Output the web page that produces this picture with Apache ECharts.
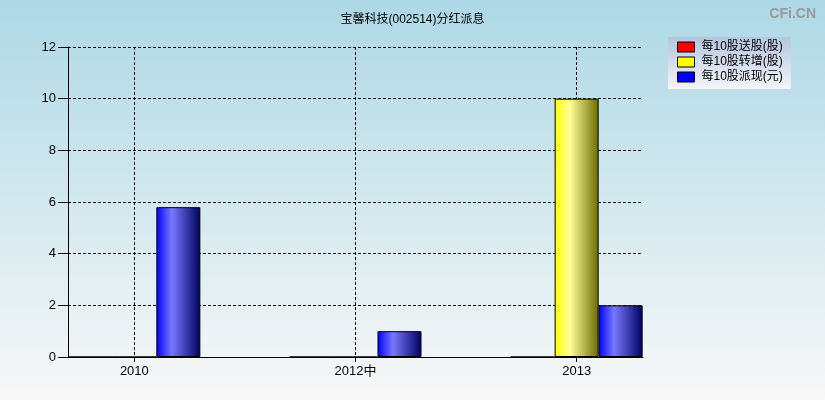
<!DOCTYPE html>
<html>
<head>
<meta charset="utf-8">
<script src="https://cdn.jsdelivr.net/npm/echarts@6/dist/echarts.min.js"></script>
<style>html,body{margin:0;padding:0;}#c{width:825px;height:400px;}</style>
</head>
<body>
<div id="c"></div>
<script>
var categories = ['2010', '2012中', '2013'];
var songGu = [0, 0, 0];       // 每10股送股(股)
var zhuanZeng = [0, 0, 10];   // 每10股转增(股)
var paiXian = [5.8, 1.0, 2.0]; // 每10股派现(元)
var yTicks = [0, 2, 4, 6, 8, 10, 12];

var FONT = '"Liberation Sans", Arial, "Noto Sans CJK SC", sans-serif';

function grad(c0, c1, c2) {
  return new echarts.graphic.LinearGradient(0, 0, 1, 0, [
    {offset: 0, color: c0}, {offset: 0.35, color: c1}, {offset: 1, color: c2}
  ]);
}
function pts(arr) { return arr.map(function (v, i) { return [i, v]; }); }
var idx = categories.map(function (c, i) { return i; });

var chart = echarts.init(document.getElementById('c'), null, {renderer: 'canvas'});
chart.setOption({
  animation: false,
  backgroundColor: new echarts.graphic.LinearGradient(0, 0, 0, 1, [
    {offset: 0, color: '#add8e6'}, {offset: 1, color: '#f8f8f8'}
  ]),
  title: [{
    text: '宝馨科技(002514)分红派息', left: 'center', top: 9,
    textStyle: {fontSize: 12, fontWeight: 'normal', color: '#000', fontFamily: FONT}
  }, {
    text: 'CFi.CN', right: 4, top: 2,
    textStyle: {fontSize: 14, fontWeight: 'bold', color: '#999', fontFamily: FONT}
  }],
  legend: {
    orient: 'vertical', left: 668, top: 37, width: 130,
    padding: [4, 8, 6, 9], itemGap: 3, itemWidth: 17, itemHeight: 10,
    backgroundColor: new echarts.graphic.LinearGradient(0, 0, 0, 1, [
      {offset: 0, color: '#b4c6de'}, {offset: 1, color: '#f4f4f8'}
    ]),
    textStyle: {fontSize: 12, color: '#000', fontFamily: FONT, padding: [0, 0, 0, 2]},
    data: [
      {name: '每10股送股(股)', icon: 'rect', itemStyle: {color: '#ff0000', borderColor: '#000', borderWidth: 1}},
      {name: '每10股转增(股)', icon: 'rect', itemStyle: {color: '#ffff00', borderColor: '#000', borderWidth: 1}},
      {name: '每10股派现(元)', icon: 'rect', itemStyle: {color: '#0000ff', borderColor: '#000', borderWidth: 1}}
    ]
  },
  grid: {left: 68, right: 182, top: 47, bottom: 43, containLabel: false},
  xAxis: {
    type: 'value', min: -0.3, max: 2.3,
    axisLine: {show: true, onZero: false, lineStyle: {color: '#000', width: 1}},
    axisTick: {show: true, customValues: idx, length: 5, lineStyle: {color: '#000'}},
    axisLabel: {
      customValues: idx, fontSize: 13, color: '#000', fontFamily: FONT, margin: 8,
      formatter: function (v) { return categories[Math.round(v)]; }
    },
    splitLine: {show: true, lineStyle: {color: '#000', type: [3, 2], width: 1}}
  },
  yAxis: {
    type: 'value', min: 0, max: 12, interval: 2,
    axisLine: {show: true, onZero: false, lineStyle: {color: '#000', width: 1}},
    axisTick: {show: true, length: 10, lineStyle: {color: '#000'}},
    axisLabel: {fontSize: 13, color: '#000', fontFamily: FONT, margin: 12},
    splitLine: {show: true, lineStyle: {color: '#000', type: [3, 2], width: 1}}
  },
  series: [{
    name: '每10股送股(股)', type: 'bar', barWidth: 44, barGap: '0%',
    itemStyle: {color: grad('#ff0000', '#ff8080', '#660000'), borderColor: '#000', borderWidth: 1},
    data: pts(songGu)
  }, {
    name: '每10股转增(股)', type: 'bar', barWidth: 44, barGap: '0%',
    itemStyle: {color: grad('#ffff00', '#ffff99', '#6b6b00'), borderColor: '#000', borderWidth: 1},
    data: pts(zhuanZeng)
  }, {
    name: '每10股派现(元)', type: 'bar', barWidth: 44, barGap: '0%',
    itemStyle: {color: grad('#0000ff', '#7878ff', '#000060'), borderColor: '#000', borderWidth: 1},
    data: pts(paiXian)
  }]
});
</script>
</body>
</html>
